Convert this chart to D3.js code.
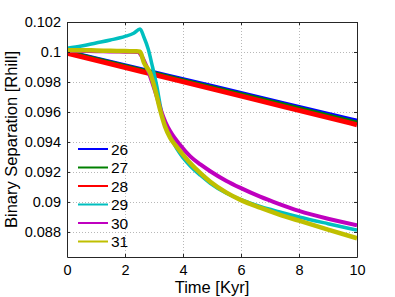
<!DOCTYPE html>
<html>
<head>
<meta charset="utf-8">
<script src="https://cdn.jsdelivr.net/npm/d3@7"></script>
<style>
  body { margin: 0; background: #fff; }
  svg { display: block; font-family: "Liberation Sans", Arial, sans-serif; }
  .grid line { stroke: #b8b8b8; stroke-dasharray: 1,2; shape-rendering: crispEdges; }
  .tick-label { font-size: 14.5px; fill: #000; }
  .axis-label { font-size: 16.5px; fill: #000; }
  .legend-label { font-size: 15.5px; fill: #000; }
</style>
</head>
<body>
<div id="chart"></div>
<script>
// series names and colours (legend order)
var seriesNames = ["26", "27", "28", "29", "30", "31"];
var seriesColors = ["#0000ff", "#008000", "#ff0000", "#00bfbf", "#bf00bf", "#bfbf00"];
var seriesWidths = [4, 4, 5, 3.5, 4, 4.5];

// tick values
var xTicks = [0, 2, 4, 6, 8, 10];
var yTicks = [0.088, 0.09, 0.092, 0.094, 0.096, 0.098, 0.1, 0.102];
var yTickLabels = ["0.088", "0.09", "0.092", "0.094", "0.096", "0.098", "0.1", "0.102"];

// time samples [Kyr]
var tLinear = [0, 2.5, 5, 7.5, 10];
var t29 = [0, 0.5, 1, 1.5, 2, 2.3, 2.52, 2.65, 2.8, 2.95, 3.1, 3.22, 3.32, 3.45, 3.6, 3.8, 4.0, 4.25, 4.6, 4.94, 5.5, 6, 6.66, 7.3, 8, 9, 10];
var t30 = [0, 0.5, 1, 1.5, 2, 2.45, 2.58, 2.75, 2.95, 3.1, 3.24, 3.4, 3.56, 3.9, 4.25, 4.6, 4.94, 5.5, 6, 6.66, 7.3, 8, 9, 10];
var t31 = [0, 0.5, 1, 1.5, 2, 2.4, 2.52, 2.65, 2.865, 3.04, 3.21, 3.38, 3.56, 3.79, 4.19, 4.6, 4.94, 5.5, 6, 6.66, 7.3, 8, 9, 10];

// binary separation [Rhill]
var sep26 = [0.10003, 0.09888, 0.09773, 0.09657, 0.09542];
var sep27 = [0.10000, 0.09883, 0.09765, 0.09648, 0.09530];
var sep28 = [0.09992, 0.09873, 0.09754, 0.09634, 0.09515];
var sep29 = [0.10025, 0.10040, 0.10060, 0.10080, 0.10104, 0.10125, 0.10153, 0.10100, 0.10020, 0.09900, 0.09770, 0.09640, 0.09550, 0.09490, 0.09425, 0.09350, 0.09295, 0.09240, 0.09178, 0.09125, 0.09058, 0.09015, 0.08970, 0.08935, 0.08900, 0.08855, 0.08812];
var sep30 = [0.10008, 0.10007, 0.10005, 0.10004, 0.10002, 0.10000, 0.09970, 0.09900, 0.09790, 0.09700, 0.09610, 0.09530, 0.09471, 0.09380, 0.09304, 0.09250, 0.09205, 0.09140, 0.09092, 0.09035, 0.08987, 0.08940, 0.08888, 0.08845];
var sep31 = [0.10012, 0.10012, 0.10010, 0.10008, 0.10006, 0.10005, 0.10002, 0.09930, 0.09860, 0.09749, 0.09615, 0.09504, 0.09427, 0.09365, 0.09272, 0.09192, 0.09135, 0.09062, 0.09012, 0.08962, 0.08918, 0.08875, 0.08815, 0.08758];

var seriesTimes = [tLinear, tLinear, tLinear, t29, t30, t31];
var seriesValues = [sep26, sep27, sep28, sep29, sep30, sep31];

var W = 395, H = 297;
var margin = { left: 67, top: 22, right: 38, bottom: 40 };
var width = W - margin.left - margin.right;
var height = H - margin.top - margin.bottom;

var svg = d3.select("#chart").append("svg")
  .attr("width", W)
  .attr("height", H);

var x = d3.scaleLinear().domain([0, 10]).range([0, width]);
var y = d3.scaleLinear().domain([0.08633, 0.102]).range([height, 0]);

var g = svg.append("g")
  .attr("transform", "translate(" + margin.left + "," + margin.top + ")");

// dotted grid
var grid = g.append("g").attr("class", "grid");
grid.selectAll(".gx")
  .data(xTicks.slice(1, -1))
  .enter().append("line")
  .attr("x1", function (d) { return Math.round(x(d)) + 0.5; })
  .attr("x2", function (d) { return Math.round(x(d)) + 0.5; })
  .attr("y1", 0).attr("y2", height);
grid.selectAll(".gy")
  .data(yTicks.slice(0, -1))
  .enter().append("line")
  .attr("y1", function (d) { return Math.round(y(d)) + 0.5; })
  .attr("y2", function (d) { return Math.round(y(d)) + 0.5; })
  .attr("x1", 0).attr("x2", width);

// data lines, clipped to the axes box
svg.append("defs").append("clipPath").attr("id", "plotClip")
  .append("rect").attr("width", width).attr("height", height);

var line = d3.line()
  .x(function (d) { return x(d[0]); })
  .y(function (d) { return y(d[1]); })
  .curve(d3.curveMonotoneX);

var lines = g.append("g").attr("clip-path", "url(#plotClip)");
seriesNames.forEach(function (name, i) {
  var pts = seriesTimes[i].map(function (t, j) { return [t, seriesValues[i][j]]; });
  lines.append("path")
    .datum(pts)
    .attr("fill", "none")
    .attr("stroke", seriesColors[i])
    .attr("stroke-width", seriesWidths[i])
    .attr("stroke-linejoin", "round")
    .attr("d", line);
});

// axes with inward ticks, Matlab style box
var axisColor = "#262626";
var xAxisB = d3.axisBottom(x).tickValues(xTicks).tickSizeInner(-3).tickSizeOuter(0).tickPadding(8);
var xAxisT = d3.axisTop(x).tickValues(xTicks).tickSizeInner(-3).tickSizeOuter(0).tickFormat("");
var yAxisL = d3.axisLeft(y).tickValues(yTicks).tickSizeInner(-3).tickSizeOuter(0).tickPadding(6)
  .tickFormat(function (d, i) { return yTickLabels[i]; });
var yAxisR = d3.axisRight(y).tickValues(yTicks).tickSizeInner(-3).tickSizeOuter(0).tickFormat("");

function styleAxis(sel) {
  sel.selectAll(".domain").attr("stroke", axisColor).attr("stroke-width", 1);
  sel.selectAll(".tick line").attr("stroke", axisColor);
  sel.selectAll(".tick text").attr("class", "tick-label").attr("font-family", null).attr("font-size", null);
  sel.attr("font-family", null).attr("font-size", null);
}

g.append("g").attr("transform", "translate(0," + height + ")").call(xAxisB).call(styleAxis);
g.append("g").call(xAxisT).call(styleAxis);
g.append("g").call(yAxisL).call(styleAxis);
g.append("g").attr("transform", "translate(" + width + ",0)").call(yAxisR).call(styleAxis);

// axis labels
svg.append("text")
  .attr("class", "axis-label")
  .attr("x", margin.left + width / 2)
  .attr("y", 292.5)
  .attr("text-anchor", "middle")
  .text("Time [Kyr]");

svg.append("text")
  .attr("class", "axis-label")
  .attr("transform", "translate(17," + (margin.top + height / 2) + ") rotate(-90)")
  .attr("text-anchor", "middle")
  .text("Binary Separation [Rhill]");

// legend (no box)
var legend = svg.append("g").attr("transform", "translate(78,149)");
var rowH = 18.5;
seriesNames.forEach(function (name, i) {
  var row = legend.append("g").attr("transform", "translate(0," + (i * rowH) + ")");
  row.append("line")
    .attr("x1", 0).attr("x2", 30)
    .attr("y1", 0).attr("y2", 0)
    .attr("stroke", seriesColors[i])
    .attr("stroke-width", 2);
  row.append("text")
    .attr("class", "legend-label")
    .attr("x", 33)
    .attr("y", 5.5)
    .text(name);
});
</script>
</body>
</html>
